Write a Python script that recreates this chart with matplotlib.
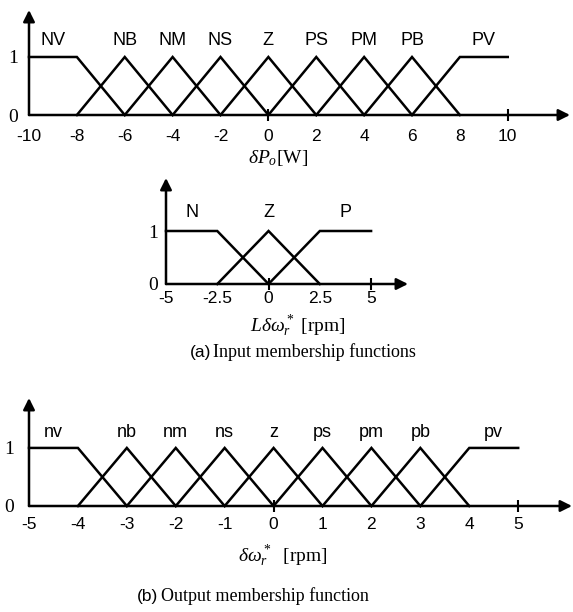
import matplotlib
matplotlib.use('Agg')
import matplotlib.pyplot as plt

plt.rcParams['mathtext.fontset'] = 'custom'
plt.rcParams['mathtext.rm'] = 'Liberation Serif'
plt.rcParams['mathtext.it'] = 'Liberation Serif:italic'

SANS = 'Liberation Sans'
SERIF = 'Liberation Serif'

# input 1: power change
p_names = ['NV', 'NB', 'NM', 'NS', 'Z', 'PS', 'PM', 'PB', 'PV']
p_peaks = [-8, -6, -4, -2, 0, 2, 4, 6, 8]
p_ticks = [-10, -8, -6, -4, -2, 0, 2, 4, 6, 8, 10]
p_ticklabels = ['-10', '-8', '-6', '-4', '-2', '0', '2', '4', '6', '8', '10']

# input 2: last speed step
l_names = ['N', 'Z', 'P']
l_peaks = [-2.5, 0, 2.5]
l_ticks = [-5, -2.5, 0, 2.5, 5]
l_ticklabels = ['-5', '-2.5', '0', '2.5', '5']

# output: speed step
o_names = ['nv', 'nb', 'nm', 'ns', 'z', 'ps', 'pm', 'pb', 'pv']
o_peaks = [-4, -3, -2, -1, 0, 1, 2, 3, 4]
o_ticks = [-5, -4, -3, -2, -1, 0, 1, 2, 3, 4, 5]
o_ticklabels = ['-5', '-4', '-3', '-2', '-1', '0', '1', '2', '3', '4', '5']

W, H = 573, 612
fig = plt.figure(figsize=(W / 100, H / 100), dpi=100)
LW = 1.8


def panel(x0, y0, x1, y1, xlim, ylim):
    # x0,y0 = pixel of the origin corner, x1,y1 = pixel of the arrow tips
    ax = fig.add_axes([x0 / W, (H - y0) / H, (x1 - x0) / W, (y0 - y1) / H])
    ax.set_xlim(xlim)
    ax.set_ylim(ylim)
    for s in ax.spines.values():
        s.set_visible(False)
    arrow = dict(arrowstyle='-|>', lw=LW, color='k', mutation_scale=17,
                 shrinkA=0, shrinkB=0)
    ax.annotate('', xy=(xlim[1], 0), xytext=(xlim[0], 0),
                arrowprops=arrow, annotation_clip=False)
    ax.annotate('', xy=(xlim[0], ylim[1]), xytext=(xlim[0], 0),
                arrowprops=arrow, annotation_clip=False)
    return ax


def draw_sets(ax, names, peaks, lo, hi, ticks, ticklabels, xpad, ypad, name_y):
    step = peaks[1] - peaks[0]
    n = len(peaks)
    for i, (name, c) in enumerate(zip(names, peaks)):
        if i == 0:
            xs, ys = [lo, c, c + step], [1, 1, 0]
            lx = (lo + c) / 2
        elif i == n - 1:
            xs, ys = [c - step, c, hi], [0, 1, 1]
            lx = (c + hi) / 2
        else:
            xs, ys = [c - step, c, c + step], [0, 1, 0]
            lx = c
        ax.plot(xs, ys, color='k', lw=LW, clip_on=False, solid_joinstyle='miter')
        ax.text(lx, name_y, name, ha='center', va='bottom',
                fontsize=13, family=SANS)
    ax.set_xticks(ticks, ticklabels, family=SANS, fontsize=12.5)
    # small cross marks only at the origin and the range end
    ax.xaxis.remove_overlapping_locs = False
    ax.set_xticks([0, hi], minor=True)
    ax.tick_params(axis='x', which='major', length=0, pad=xpad)
    ax.tick_params(axis='x', which='minor', length=9, width=1.5,
                   direction='inout', color='k')
    ax.set_yticks([0, 1], ['0', '1'], family=SERIF, fontsize=14)
    ax.tick_params(axis='y', length=0, pad=ypad)


# top: power change input
ax1 = panel(29, 115, 570, 10, (-10, 12.6), (0, 1.81))
draw_sets(ax1, p_names, p_peaks, -10, 10, p_ticks, p_ticklabels, 10, 8, 1.13)

# middle: last speed step input
ax2 = panel(166, 284, 408, 178, (-5, 6.8), (0, 2.0))
draw_sets(ax2, l_names, l_peaks, -5, 5, l_ticks, l_ticklabels, 5, 6, 1.18)

# bottom: output speed step
ax3 = panel(29, 506, 572, 398, (-5, 6.1), (0, 1.86))
draw_sets(ax3, o_names, o_peaks, -5, 5, o_ticks, o_ticklabels, 8, 11, 1.12)

# axis titles and captions
fig.text(278 / W, 1 - 158 / H, r'$\delta P_o$[W]', ha='center', va='center',
         fontsize=14, family=SERIF)
fig.text(298 / W, 1 - 326 / H, r'$L\delta\omega_r^*$ [rpm]', ha='center',
         va='center', fontsize=14, family=SERIF)
fig.text(211 / W, 1 - 352 / H, '(a)', ha='right', va='center',
         fontsize=12.5, family=SANS)
fig.text(213 / W, 1 - 352 / H, 'Input membership functions', ha='left',
         va='center', fontsize=13, family=SERIF)

fig.text(283 / W, 1 - 556 / H, r'$\delta\omega_r^*$  [rpm]', ha='center',
         va='center', fontsize=14, family=SERIF)
fig.text(158 / W, 1 - 596 / H, '(b)', ha='right', va='center',
         fontsize=12.5, family=SANS)
fig.text(161 / W, 1 - 596 / H, 'Output membership function', ha='left',
         va='center', fontsize=13, family=SERIF)

fig.savefig('out.png', dpi=100)
